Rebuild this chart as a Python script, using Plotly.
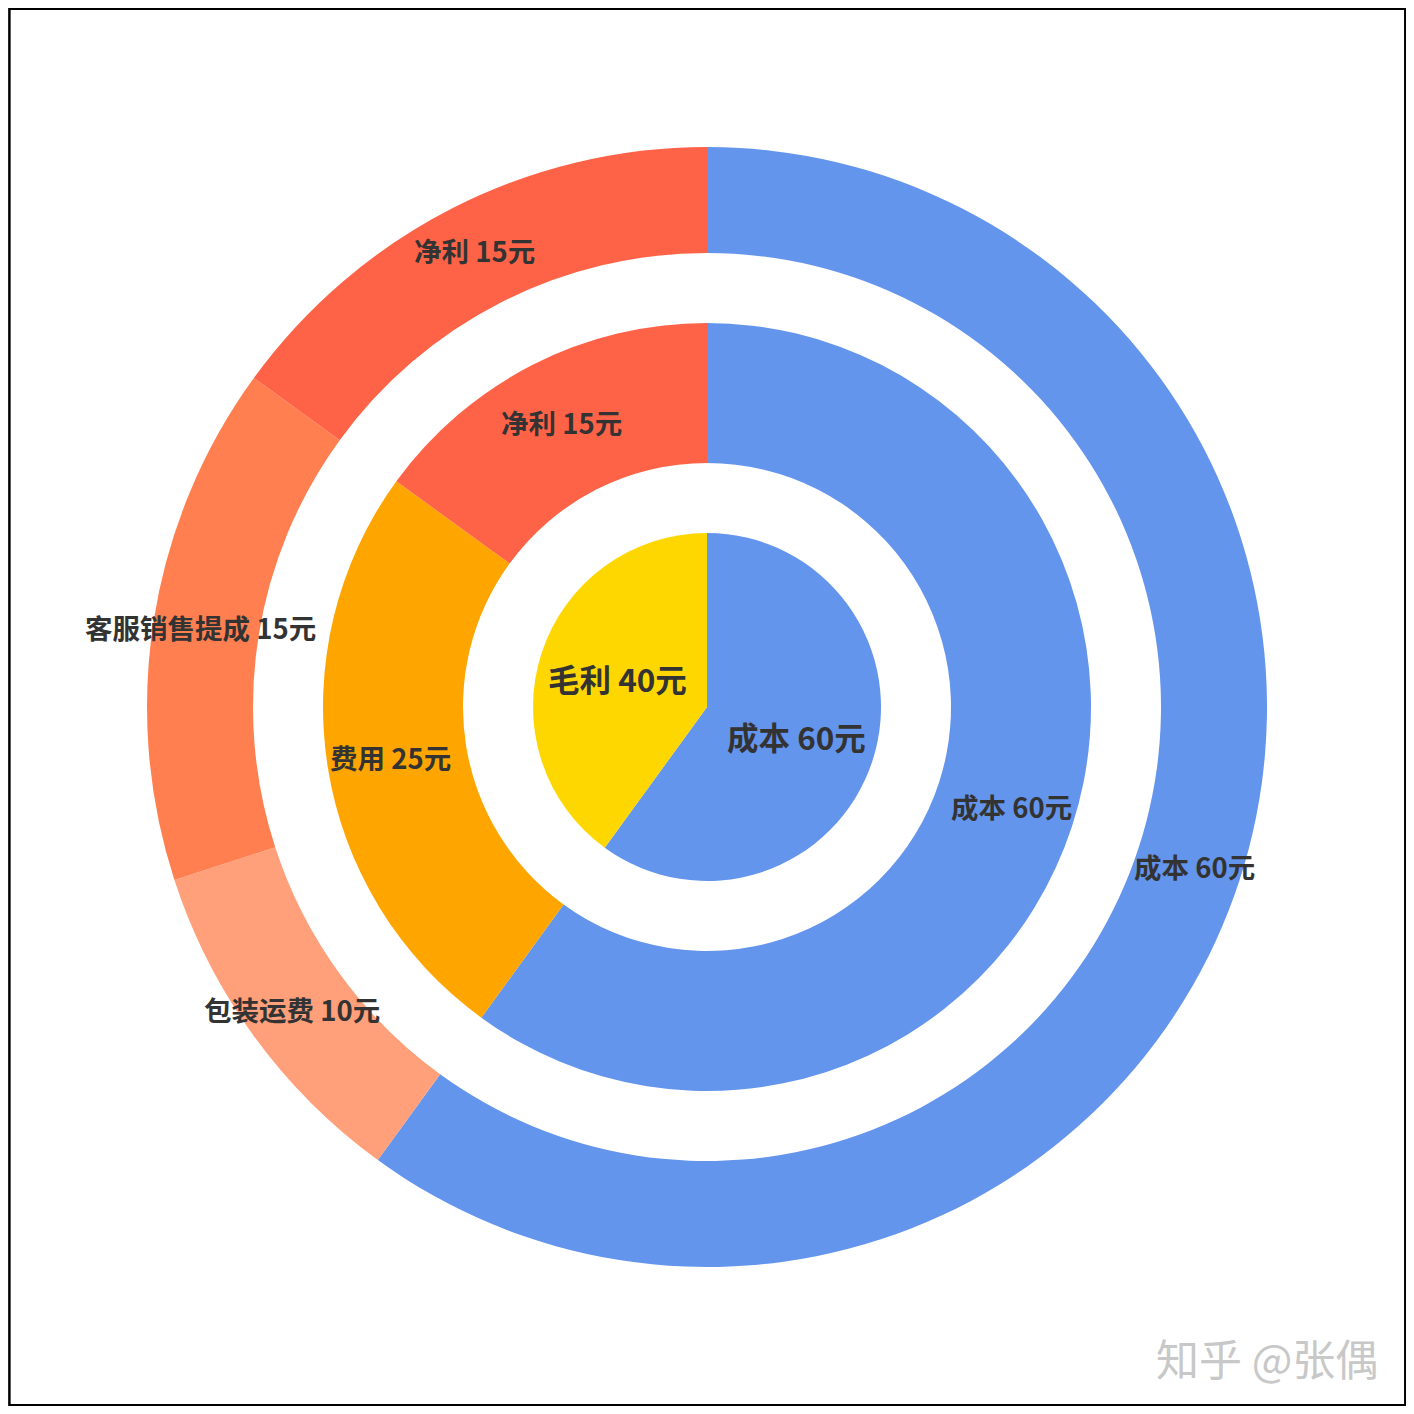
import math
import plotly.graph_objects as go

# 内圈：毛利结构
inner_labels = ["成本", "毛利"]
inner_values = [60, 40]
inner_colors = ["#6495ED", "#FFD700"]

# 中圈：毛利拆成费用和净利
mid_labels = ["成本", "费用", "净利"]
mid_values = [60, 25, 15]
mid_colors = ["#6495ED", "#FFA500", "#FF6347"]

# 外圈：费用再拆开
outer_labels = ["成本", "包装运费", "客服销售提成", "净利"]
outer_values = [60, 10, 15, 15]
outer_colors = ["#6495ED", "#FFA07A", "#FF7F50", "#FF6347"]

W = H = 1398   # 页面 body 有 8px 边距
CX = CY = 0.5


def dom(r_px):
    # 饼图半径(像素) -> paper 坐标的 domain
    h = r_px / W
    return dict(x=[CX - h, CX + h], y=[CY - h, CY + h])


fig = go.Figure()


def ring(labels, values, colors, r_out, r_in, size, r_txt):
    fig.add_trace(go.Pie(
        labels=labels, values=values, textinfo="none",
        marker=dict(colors=colors, line=dict(width=0)),
        hole=r_in / r_out if r_in else 0,
        domain=dom(r_out), sort=False, direction="clockwise", rotation=0,
        showlegend=False, hoverinfo="label+value",
    ))
    # 标签放在每块的角度中点、圆环中线上（像 echarts 的 inside）
    tot, acc = sum(values), 0
    for l, v in zip(labels, values):
        a = 2 * math.pi * (acc + v / 2) / tot
        acc += v
        fig.add_annotation(
            text=f"{l} {v}元", showarrow=False, xref="paper", yref="paper",
            x=CX + r_txt * math.sin(a) / W, y=CY + r_txt * math.cos(a) / H,
            xanchor="center", yanchor="middle",
            font=dict(family="Noto Sans CJK SC", size=size, color="#333333", weight="bold"))


ring(outer_labels, outer_values, outer_colors, 560, 454, 27.5, 513)
ring(mid_labels, mid_values, mid_colors, 384, 244, 27.5, 320)
ring(inner_labels, inner_values, inner_colors, 174, 0, 31.5, 94)

# 外边框
fig.add_shape(type="rect", xref="paper", yref="paper",
              x0=0.001, x1=0.9995, y0=0.0005, y1=0.9995,
              line=dict(color="black", width=2.5))
# 水印
fig.add_annotation(text="知乎 @张偶", xref="paper", yref="paper",
                   x=(1380 - 8) / W, y=1 - (1357 - 8) / H, xanchor="right", yanchor="middle",
                   showarrow=False,
                   font=dict(family="Noto Sans CJK SC", size=43, color="#c8c8c8"))

fig.update_layout(
    width=W, height=H, margin=dict(l=0, r=0, t=0, b=0),
    paper_bgcolor="white", plot_bgcolor="white",
)
fig.write_html("out.html")
